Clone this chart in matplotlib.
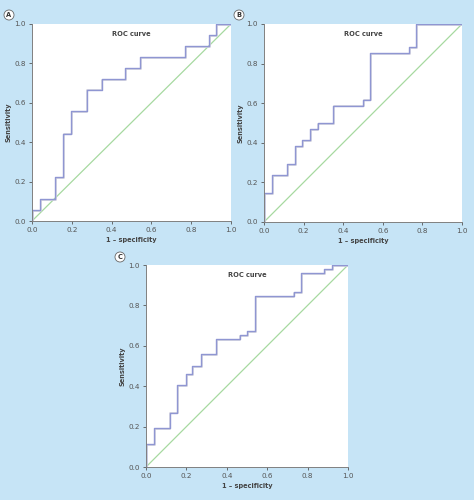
import matplotlib
matplotlib.use('Agg')
import matplotlib.pyplot as plt

# ROC curve corner points (1 - specificity, sensitivity)
fpr_a = [0.0, 0.0, 0.042, 0.118, 0.156, 0.197, 0.274, 0.350, 0.466, 0.543, 0.771, 0.889, 0.926, 1.0]
tpr_a = [0.0, 0.056, 0.111, 0.222, 0.444, 0.556, 0.667, 0.722, 0.778, 0.833, 0.889, 0.944, 1.0, 1.0]

fpr_b = [0.0, 0.0, 0.042, 0.116, 0.155, 0.194, 0.232, 0.271, 0.348, 0.500, 0.537, 0.734, 0.769, 1.0]
tpr_b = [0.0, 0.147, 0.235, 0.294, 0.382, 0.412, 0.471, 0.500, 0.588, 0.618, 0.853, 0.882, 1.0, 1.0]

fpr_c = [0.0, 0.0, 0.041, 0.117, 0.155, 0.197, 0.230, 0.271, 0.349, 0.463, 0.501, 0.539, 0.731, 0.769, 0.883, 0.922, 1.0]
tpr_c = [0.0, 0.115, 0.192, 0.269, 0.404, 0.462, 0.500, 0.558, 0.635, 0.654, 0.673, 0.846, 0.865, 0.962, 0.981, 1.0, 1.0]

panels = ['A', 'B', 'C']
ticks = [0.0, 0.2, 0.4, 0.6, 0.8, 1.0]

W, H = 474, 500
bg = '#c6e4f6'
curve_col = '#8f96d2'
diag_col = '#a6d9a0'
txt_col = '#555555'

fig = plt.figure(figsize=(W / 100, H / 100), dpi=100)
fig.patch.set_facecolor(bg)

# axes boxes in pixels: left, top, right, bottom
boxes = [(32, 24, 231, 221), (264, 24, 462, 222), (146, 265, 348, 467)]
letter_pos = [(9, 15), (239, 15), (120, 257)]
data = [(fpr_a, tpr_a), (fpr_b, tpr_b), (fpr_c, tpr_c)]

for (l, t, r, b), (fx, ty), lab, (lx, ly) in zip(boxes, data, panels, letter_pos):
    ax = fig.add_axes([l / W, 1 - b / H, (r - l) / W, (b - t) / H])
    ax.set_facecolor('white')
    ax.plot([0, 1], [0, 1], color=diag_col, lw=0.9)
    # faint shadow under the curve
    ax.plot(fx, ty, drawstyle='steps-post', color='#d0d0de', lw=1.2,
            transform=ax.transData + matplotlib.transforms.ScaledTranslation(0.6 / 72, -0.6 / 72, fig.dpi_scale_trans))
    ax.plot(fx, ty, drawstyle='steps-post', color=curve_col, lw=1.0)
    ax.set_xlim(0, 1)
    ax.set_ylim(0, 1)
    ax.set_xticks(ticks)
    ax.set_yticks(ticks)
    ax.set_xticklabels(['%.1f' % v for v in ticks])
    ax.set_yticklabels(['%.1f' % v for v in ticks])
    ax.tick_params(labelsize=5.2, colors=txt_col, length=2.5, width=0.6, pad=2)
    for s in ['top', 'right']:
        ax.spines[s].set_visible(False)
    for s in ['left', 'bottom']:
        ax.spines[s].set_color('#808080')
        ax.spines[s].set_linewidth(0.7)
    ax.set_xlabel('1 \u2013 specificity', fontsize=4.8, fontweight='bold', color='#444444', labelpad=2.5)
    ax.set_ylabel('Sensitivity', fontsize=4.8, fontweight='bold', color='#444444', labelpad=2)
    ax.text(0.5, 0.965, 'ROC curve', transform=ax.transAxes, ha='center', va='top',
            fontsize=4.8, fontweight='bold', color='#444444')
    fig.text(lx / W, 1 - ly / H, lab, ha='center', va='center', fontsize=4.8, fontweight='bold',
             color='#333333',
             bbox=dict(boxstyle='circle,pad=0.3', fc='white', ec='#666666', lw=0.6))

fig.savefig('out.png', dpi=100, facecolor=bg)
